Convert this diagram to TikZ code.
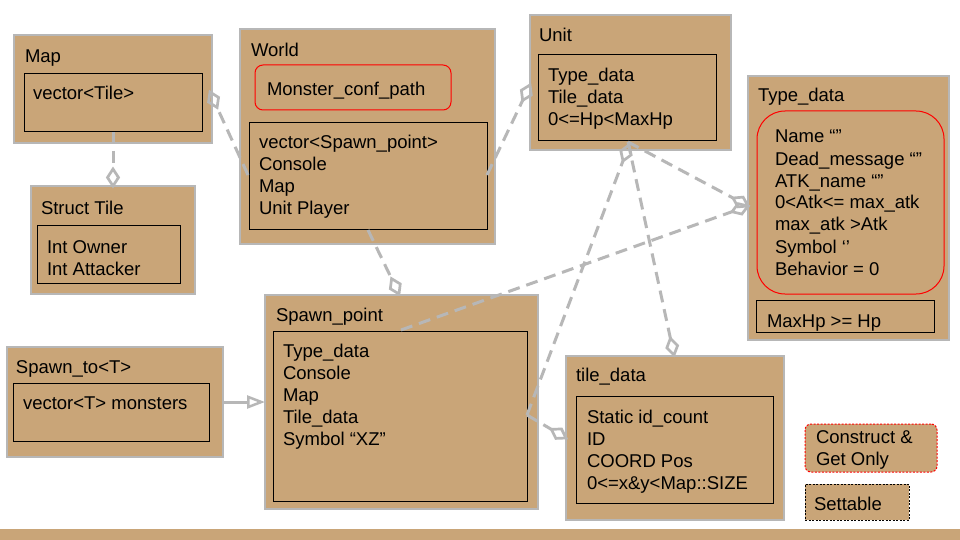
\documentclass[tikz,border=0pt]{standalone}
\usepackage{fontspec}
\setmainfont{Liberation Sans}
\usetikzlibrary{arrows.meta,calc}
\definecolor{boxtan}{HTML}{C9A578}
\definecolor{linegray}{HTML}{B7B7B7}
\newcommand\txtlines[1]{\begin{tabular}[t]{@{}l@{}}#1\end{tabular}}
\tikzset{
  outerbox/.style={draw=linegray, line width=1.5pt, fill=boxtan, inner sep=0pt, outer sep=0pt, anchor=north west},
  innerbox/.style={draw=black, line width=0.9pt, inner sep=0pt, outer sep=0pt, anchor=north west},
  redbox/.style={draw=red, line width=1pt, inner sep=0pt, outer sep=0pt, anchor=north west},
  txt/.style={inner sep=0pt, outer sep=0pt, anchor=base west, font=\fontsize{18.5}{22}\selectfont},
  conn/.style={draw=linegray, line width=3pt, dash pattern=on 12pt off 7pt},
  diashape/.style={draw=linegray, line width=2.7pt, line join=miter},
  inherit/.style={draw=linegray, line width=3pt, -{Triangle[open, length=18pt, width=13pt, line width=2.5pt]}},
}
% dashed connector from #1 to #2 with an open diamond at #2
\newcommand\diaconn[2]{%
  \draw[conn, shorten >=17pt] (#1) -- (#2);
  \coordinate (dmid) at ($(#2)!8.5pt!(#1)$);
  \draw[diashape] (#2) -- ($(dmid)!5.5pt!90:(#2)$) -- ($(#2)!17pt!(#1)$) -- ($(dmid)!5.5pt!-90:(#2)$) -- cycle;
}
\begin{document}
\begin{tikzpicture}[x=1pt, y=-1pt]
\useasboundingbox[fill=white] (0,0) rectangle (960,540);

% bottom bar
\node[fill=boxtan, inner sep=0pt, outer sep=0pt, anchor=north west, minimum width=960pt, minimum height=11pt] (bar) at (0,529) {};

% Map
\node[outerbox, minimum width=198pt, minimum height=108pt] (map) at (14,35) {};
\node[innerbox, minimum width=178pt, minimum height=58pt] (mapin) at (24,73) {};
\node[txt] (maptitle) at (25,63) {Map};
\node[txt] (maptxt) at (33,100) {vector<Tile>};

% Struct Tile
\node[outerbox, minimum width=164pt, minimum height=108pt] (stile) at (31,186) {};
\node[innerbox, minimum width=143pt, minimum height=58pt] (stilein) at (37,225) {};
\node[txt] (stiletitle) at (41,214) {Struct Tile};
\node[txt] (stiletxt) at (47,253) {\txtlines{Int Owner\\Int Attacker}};

% World
\node[outerbox, minimum width=255pt, minimum height=215pt] (world) at (240,29) {};
\node[redbox, rounded corners=8pt, minimum width=196pt, minimum height=45pt] (worldred) at (255,65) {};
\node[innerbox, minimum width=238pt, minimum height=107pt] (worldin) at (249,122) {};
\node[txt] (worldtitle) at (251,57) {World};
\node[txt] (worldred-t) at (267,96) {Monster\_conf\_path};
\node[txt] (worldtxt) at (259,149) {\txtlines{vector<Spawn\_point>\\Console\\Map\\Unit Player}};

% Unit
\node[outerbox, minimum width=201pt, minimum height=135pt] (unit) at (530,15) {};
\node[innerbox, minimum width=178pt, minimum height=86pt] (unitin) at (538,54) {};
\node[txt] (unittitle) at (539,42) {Unit};
\node[txt] (unittxt) at (548,82) {\txtlines{Type\_data\\Tile\_data\\0<=Hp<MaxHp}};

% Type_data
\node[outerbox, minimum width=201pt, minimum height=264pt] (tdata) at (748,76) {};
\node[redbox, rounded corners=28pt, minimum width=187pt, minimum height=183pt] (tdatared) at (757,111) {};
\node[innerbox, minimum width=178pt, minimum height=32pt] (tdatain) at (756,300) {};
\node[txt] (tdatatitle) at (758,102) {Type\_data};
\node[txt] (tdatared-t) at (775,143) {\txtlines{Name “”\\Dead\_message “”\\ATK\_name “”\\0<Atk<= max\_atk\\max\_atk >Atk\\Symbol ‘’\\Behavior = 0}};
\node[txt] (tdatatxt) at (767,327) {MaxHp >= Hp};

% Spawn_point
\node[outerbox, minimum width=273pt, minimum height=214pt] (spawn) at (265,295) {};
\node[innerbox, minimum width=254pt, minimum height=170pt] (spawnin) at (273,331) {};
\node[txt] (spawntitle) at (276,321) {Spawn\_point};
\node[txt] (spawntxt) at (283,357) {\txtlines{Type\_data\\Console\\Map\\Tile\_data\\Symbol “XZ”}};

% Spawn_to<T>
\node[outerbox, minimum width=216pt, minimum height=110pt] (spto) at (7,347) {};
\node[innerbox, minimum width=196pt, minimum height=58pt] (sptoin) at (13,383) {};
\node[txt] (sptotitle) at (16,373) {Spawn\_to<T>};
\node[txt] (sptotxt) at (23,409) {vector<T> monsters};

% tile_data
\node[outerbox, minimum width=218pt, minimum height=164pt] (tile) at (566,356) {};
\node[innerbox, minimum width=197pt, minimum height=107pt] (tilein) at (576,396) {};
\node[txt] (tiletitle) at (576,381) {tile\_data};
\node[txt] (tiletxt) at (587,423) {\txtlines{Static id\_count\\ID\\COORD Pos\\0<=x\&y<Map::SIZE}};

% legend
\node[fill=boxtan, draw=red, line width=1pt, dash pattern=on 2pt off 1.5pt, rounded corners=6pt, inner sep=0pt, outer sep=0pt, anchor=north west, minimum width=132pt, minimum height=48pt] (leg1) at (805,424) {};
\node[txt] (leg1t) at (816,443) {\txtlines{Construct \&\\Get Only}};
\node[fill=boxtan, draw=black, line width=1pt, dash pattern=on 2pt off 1.5pt, inner sep=0pt, outer sep=0pt, anchor=north west, minimum width=104pt, minimum height=36pt] (leg2) at (805,484) {};
\node[txt] (leg2t) at (814,510) {Settable};

% connector end points
\coordinate (worldL) at (248,175);
\coordinate (mapR) at (210,92);
\coordinate (worldR) at (487,175);
\coordinate (unitL) at (530,85);
\coordinate (worldB) at (368,230);
\coordinate (spawnT) at (399,294);
\coordinate (spawninT) at (401,330);
\coordinate (tdataL) at (748,206);
\coordinate (unitB) at (628,142);
\coordinate (unitBd) at (629,145);
\coordinate (tileT) at (674,355);
\coordinate (spawninR) at (527,415);
\coordinate (tileL) at (566,438);
\coordinate (stileT) at (113,186);
\coordinate (mapinB) at (113,132);

% connectors
\diaconn{mapinB}{stileT}
\diaconn{worldL}{mapR}
\diaconn{worldR}{unitL}
\diaconn{worldB}{spawnT}
\diaconn{spawninT}{tdataL}
\diaconn{unitB}{tdataL}
\diaconn{unitB}{tileT}
\diaconn{spawninR}{unitBd}
\diaconn{spawninR}{tileL}
\draw[inherit] (spto.east) -- (spawn.west |- spto.east);
\end{tikzpicture}
\end{document}
